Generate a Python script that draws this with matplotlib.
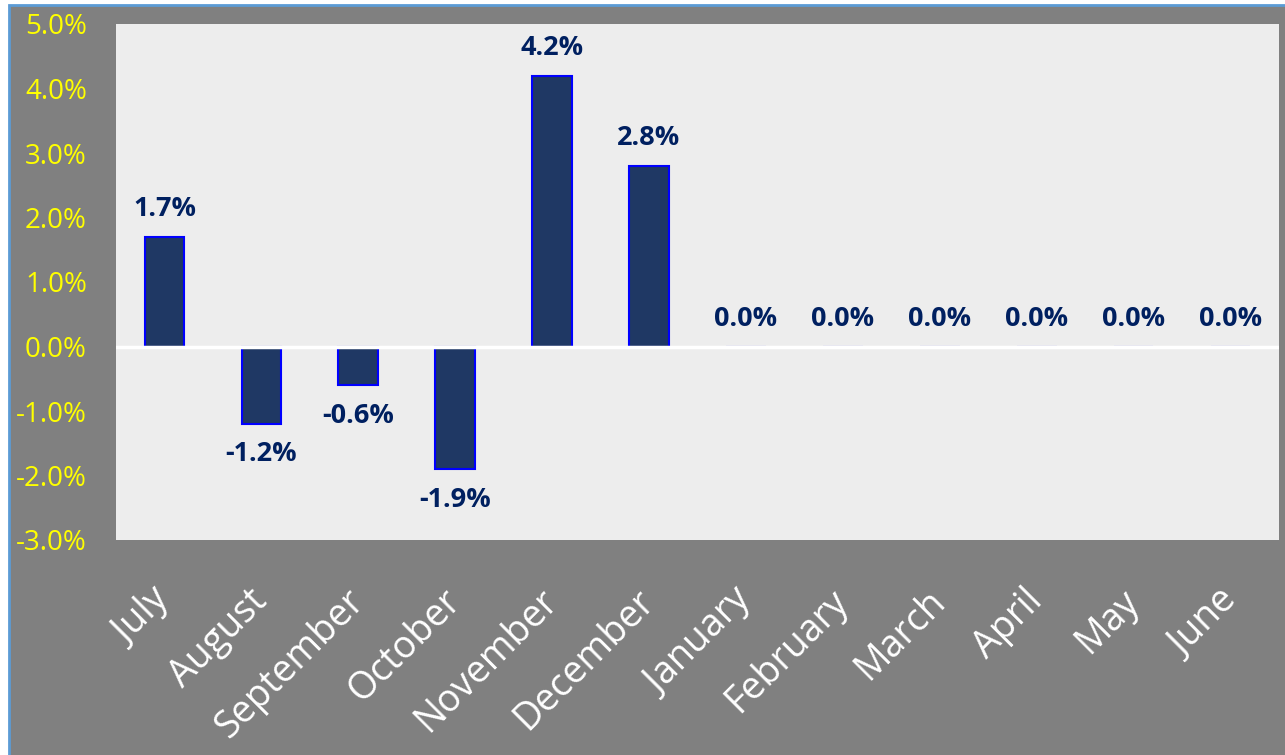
import matplotlib.pyplot as plt
from matplotlib.patches import Rectangle

months = ["July", "August", "September", "October", "November", "December",
          "January", "February", "March", "April", "May", "June"]
change = [1.7, -1.2, -0.6, -1.9, 4.2, 2.8, 0.0, 0.0, 0.0, 0.0, 0.0, 0.0]
yticks = [-3, -2, -1, 0, 1, 2, 3, 4, 5]

plt.rcParams['font.family'] = ['Open Sans', 'DejaVu Sans']

fig = plt.figure(figsize=(12.85, 7.55), dpi=100)
fig.patch.set_facecolor('white')
# gray chart frame with thin blue outline
fig.patches.append(Rectangle((9 / 1285, -0.01), 1.0, 1.01 - 5 / 755, transform=fig.transFigure,
                             facecolor='#808080', edgecolor='#5B9BD5', linewidth=2, zorder=-10))

ax = fig.add_axes([116 / 1285, 1 - 540 / 755, 1163 / 1285, 516 / 755])
ax.set_facecolor('#EDEDED')

x = range(len(months))
ax.bar(x, change, width=0.41, color='#1F3864', edgecolor='#0000FF', linewidth=1.5, zorder=2)
ax.axhline(0, color='white', linewidth=2.5, zorder=3)

for i, v in enumerate(change):
    off = -22 if v < 0 else 20
    ax.annotate(f"{v:.1f}%", (i, v), xytext=(0, off), textcoords='offset points',
                ha='center', va='center', fontsize=19.5, fontweight='bold', color='#002060')

ax.set_xlim(-0.5, len(months) - 0.5)
ax.set_ylim(-3, 5)
ax.set_yticks(yticks)
ax.set_yticklabels([f"{t:.1f}%" for t in yticks], color='yellow', fontsize=20)
ax.set_xticks(list(x))
ax.set_xticklabels(months, rotation=45, ha='right', va='center', rotation_mode='anchor',
                   color='white', fontsize=27)
ax.tick_params(axis='y', length=0, pad=21)
ax.tick_params(axis='x', length=0, pad=40)
for s in ax.spines.values():
    s.set_visible(False)

fig.savefig('out.png', dpi=100)
